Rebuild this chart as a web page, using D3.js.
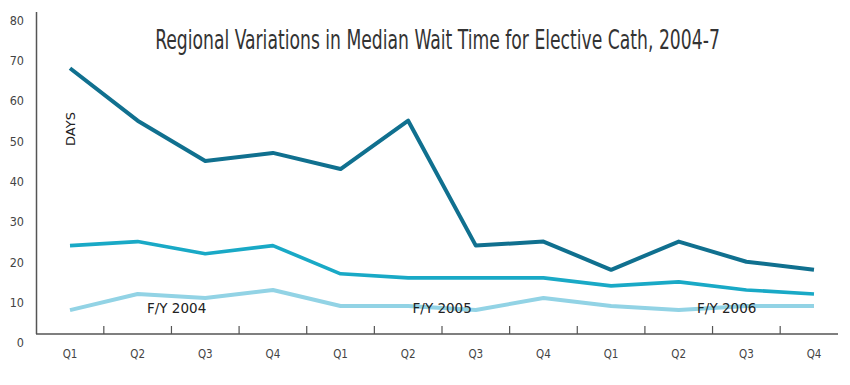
<!DOCTYPE html>
<html>
<head>
<meta charset="utf-8">
<script src="https://cdn.jsdelivr.net/npm/d3@7"></script>
<style>
  body { margin: 0; background: #fff; }
  svg { display: block; }
</style>
</head>
<body>
<div id="chart"></div>
<script>
const width = 850;
const height = 385;

// quarters, three fiscal years
const quarters = ["Q1", "Q2", "Q3", "Q4", "Q1", "Q2", "Q3", "Q4", "Q1", "Q2", "Q3", "Q4"];
const fiscalYears = ["F/Y 2004", "F/Y 2005", "F/Y 2006"];
const yTicks = [0, 10, 20, 30, 40, 50, 60, 70, 80];

// median wait (days)
const regionHigh = [67, 54, 44, 46, 42, 54, 23, 24, 17, 24, 19, 17];
const regionMid = [23, 24, 21, 23, 16, 15, 15, 15, 13, 14, 12, 11];
const regionLow = [7, 11, 10, 12, 8, 8, 7, 10, 8, 7, 8, 8];

const series = [
    { values: regionLow, color: "#92d3e5", width: 4 },
    { values: regionMid, color: "#19a9c6", width: 3.6 },
    { values: regionHigh, color: "#10708f", width: 4 }
];

const svg = d3.select("#chart")
    .append("svg")
    .attr("width", width)
    .attr("height", height);

const x = d3.scalePoint()
    .domain(d3.range(quarters.length))
    .range([70, 814]);

const y = d3.scaleLinear()
    .domain([0, 80])
    .range([338.3, 15.9]);

const axisColor = "#555";
const baseY = 334;

// y axis line
svg.append("line")
    .attr("x1", 36.5).attr("x2", 36.5)
    .attr("y1", 12).attr("y2", baseY)
    .attr("stroke", axisColor)
    .attr("stroke-width", 1.5);

// x axis line
svg.append("line")
    .attr("x1", 36).attr("x2", 838)
    .attr("y1", baseY).attr("y2", baseY)
    .attr("stroke", axisColor)
    .attr("stroke-width", 1.5);

// ticks between quarters
const step = x.step();
svg.selectAll(".xtick")
    .data(d3.range(quarters.length - 1))
    .enter().append("line")
    .attr("class", "xtick")
    .attr("x1", d => x(d) + step / 2)
    .attr("x2", d => x(d) + step / 2)
    .attr("y1", baseY - 8)
    .attr("y2", baseY)
    .attr("stroke", axisColor)
    .attr("stroke-width", 1.2);

const labelFont = "'Liberation Sans Narrow', 'DejaVu Sans Condensed', 'Liberation Sans', sans-serif";

// y tick labels (sit a little below their value)
svg.selectAll(".ylab")
    .data(yTicks)
    .enter().append("text")
    .attr("class", "ylab")
    .attr("x", 24)
    .attr("y", d => y(d) + 4.5)
    .attr("dy", "0.35em")
    .attr("text-anchor", "end")
    .style("font-family", labelFont)
    .style("font-size", "12.5px")
    .style("fill", "#444")
    .text(d => d);

// quarter labels
svg.selectAll(".xlab")
    .data(quarters)
    .enter().append("text")
    .attr("class", "xlab")
    .attr("x", (d, i) => x(i))
    .attr("y", 354)
    .attr("dy", "0.35em")
    .attr("text-anchor", "middle")
    .style("font-family", labelFont)
    .style("font-size", "11.5px")
    .style("fill", "#444")
    .text(d => d);

// lines
const line = d3.line()
    .x((d, i) => x(i))
    .y(d => y(d));

svg.selectAll(".series")
    .data(series)
    .enter().append("path")
    .attr("class", "series")
    .attr("d", d => line(d.values))
    .attr("fill", "none")
    .attr("stroke", d => d.color)
    .attr("stroke-width", d => d.width)
    .attr("stroke-linejoin", "round")
    .attr("stroke-linecap", "butt");

// fiscal year labels
const fyDx = [39, 34, 48];
svg.selectAll(".fy")
    .data(fiscalYears)
    .enter().append("text")
    .attr("class", "fy")
    .attr("x", (d, i) => x(i * 4 + 1) + fyDx[i])
    .attr("y", 313)
    .attr("text-anchor", "middle")
    .style("font-family", "'DejaVu Sans', sans-serif")
    .style("font-size", "13.5px")
    .style("fill", "#222")
    .text(d => d);

// DAYS
svg.append("text")
    .attr("transform", "translate(75,129) rotate(-90)")
    .attr("text-anchor", "middle")
    .style("font-family", "'DejaVu Sans', sans-serif")
    .style("font-size", "13px")
    .style("fill", "#222")
    .text("DAYS");

// title - condensed look: squeeze horizontally to the reference width
const title = svg.append("text")
    .attr("text-anchor", "middle")
    .attr("transform", "translate(437.5,49)")
    .style("font-family", labelFont)
    .style("font-size", "26px")
    .style("fill", "#333")
    .text("Regional Variations in Median Wait Time for Elective Cath, 2004-7");

const w = title.node().getComputedTextLength();
if (w > 0) {
    title.attr("transform", `translate(437.5,49) scale(${(565 / w).toFixed(4)},1)`);
}
</script>
</body>
</html>
